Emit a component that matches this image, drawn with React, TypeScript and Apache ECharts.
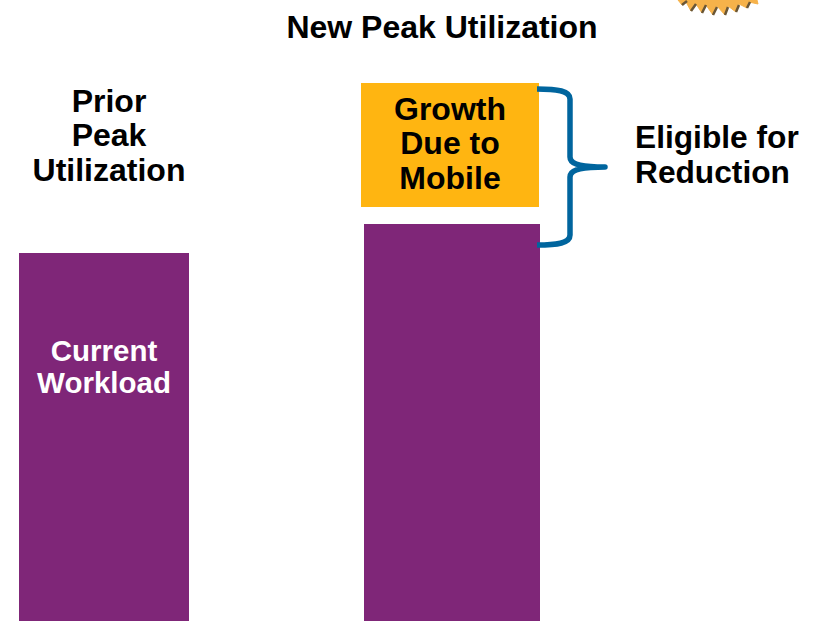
import React, { useEffect, useRef } from "react";
import * as echarts from "echarts";

const priorCategories = ["Prior Peak Utilization"];
const newCategories = ["New Peak Utilization"];
const priorWorkload = [368];
const newWorkload = [397];
const growthBase = [414];
const growthMobile = [124];
const yMax = 621;

const titleText = "New Peak Utilization";
const priorText = "Prior\nPeak\nUtilization";
const currentText = "Current\nWorkload";
const growthText = "Growth\nDue to\nMobile";
const eligibleText = "Eligible for\nReduction";

const PURPLE = "#7F2678";
const ORANGE = "#FFB511";
const BLUE = "#00659E";
const FONT = '"Liberation Sans", Arial, sans-serif';

const braceD =
  "M537 89 C558 89 570 91 570 99 L570 157 C570 163 576 167 605 167 C576 167 570 171 570 177 L570 235 C570 243 558 245 537 245";
const sunD =
  "M678 0 L682 5 L686 2 L691 11 L696 4 L702 13 L706 5 L713 15 L717 6 L725 15 L728 6 L736 12 L739 4 L747 8 L749 2 L758 4 L757 0 Z";
const rayD =
  "M682 5 L687 1 M691 11 L696 4 M702 13 L706 5 M713 15 L717 7 M725 15 L728 7 M736 12 L739 5 M747 8 L750 2";

echarts.graphic.registerShape("brace", echarts.graphic.extendPath(braceD, {}));
echarts.graphic.registerShape("sun", echarts.graphic.extendPath(sunD, {}));
echarts.graphic.registerShape("rays", echarts.graphic.extendPath(rayD, {}));

const hiddenCat = (gridIndex: number, data: string[]) => ({
  type: "category" as const,
  gridIndex,
  data,
  show: false,
});
const hiddenVal = (gridIndex: number) => ({
  type: "value" as const,
  gridIndex,
  min: 0,
  max: yMax,
  show: false,
});

const txt = (
  text: string,
  x: number,
  y: number,
  fontSize: number,
  lineHeight: number,
  fill = "#000000",
  align: "center" | "left" = "center"
) => ({
  type: "text" as const,
  x,
  y,
  z: 10,
  style: {
    text,
    fill,
    align,
    verticalAlign: "middle" as const,
    fontFamily: FONT,
    fontWeight: "bold" as const,
    fontSize,
    lineHeight,
  },
});

export default function App() {
  const ref = useRef<HTMLDivElement>(null);
  useEffect(() => {
    document.body.style.margin = "0";
    const chart = echarts.init(ref.current!, null, { renderer: "svg" });
    chart.setOption({
      animation: false,
      backgroundColor: "#ffffff",
      grid: [
        { left: 19, width: 170, top: 0, bottom: 0 },
        { left: 364, width: 176, top: 0, bottom: 0 },
        { left: 361, width: 178, top: 0, bottom: 0 },
      ],
      xAxis: [
        hiddenCat(0, priorCategories),
        hiddenCat(1, newCategories),
        hiddenCat(2, newCategories),
      ],
      yAxis: [hiddenVal(0), hiddenVal(1), hiddenVal(2)],
      series: [
        {
          name: "Current Workload",
          type: "bar",
          xAxisIndex: 0,
          yAxisIndex: 0,
          barWidth: "100%",
          data: priorWorkload,
          itemStyle: { color: PURPLE },
        },
        {
          name: "Current Workload (new peak)",
          type: "bar",
          xAxisIndex: 1,
          yAxisIndex: 1,
          barWidth: "100%",
          data: newWorkload,
          itemStyle: { color: PURPLE },
        },
        {
          name: "Base",
          type: "bar",
          xAxisIndex: 2,
          yAxisIndex: 2,
          stack: "growth",
          barWidth: "100%",
          data: growthBase,
          itemStyle: { color: "transparent" },
          silent: true,
        },
        {
          name: "Growth Due to Mobile",
          type: "bar",
          xAxisIndex: 2,
          yAxisIndex: 2,
          stack: "growth",
          barWidth: "100%",
          data: growthMobile,
          itemStyle: { color: ORANGE },
        },
      ],
      graphic: {
        elements: [
          { type: "sun", x: 0, y: 0, z: 5, style: { fill: "#F6B24A", stroke: "#F6B24A", lineWidth: 1 } },
          { type: "rays", x: 0, y: 0, z: 6, style: { fill: "none", stroke: "#6A5636", lineWidth: 2.5 } },
          { type: "brace", x: 0, y: 0, z: 5, style: { fill: "none", stroke: BLUE, lineWidth: 5.5, lineJoin: "round" } },
          txt(titleText, 442, 27, 32, 36),
          txt(priorText, 109, 135, 32, 34.5),
          txt(currentText, 104, 366, 29.5, 32, "#ffffff"),
          txt(growthText, 450, 143, 32, 34.5),
          txt(eligibleText, 635, 154, 31.7, 35, "#000000", "left"),
        ],
      },
    });
    return () => chart.dispose();
  }, []);
  return <div ref={ref} style={{ position: "fixed", left: 0, top: 0, width: 817, height: 621 }} />;
}
